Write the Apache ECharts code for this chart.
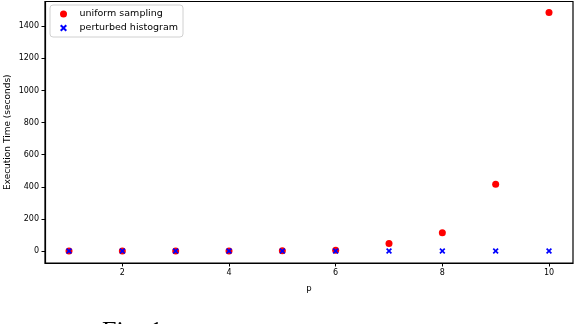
<!DOCTYPE html>
<html><head><meta charset="utf-8">
<script src="https://cdn.jsdelivr.net/npm/echarts@6/dist/echarts.min.js"></script>
<style>html,body{margin:0;padding:0;background:#fff}#c{width:574px;height:324px}</style>
</head><body><div id="c"></div>
<script>
const pValues = [1, 2, 3, 4, 5, 6, 7, 8, 9, 10];
const uniformSampling = [1, 1, 1, 1, 2, 5, 48, 115, 417, 1485];
const perturbedHistogram = [0.5, 0.5, 0.5, 0.5, 0.5, 0.5, 0.5, 0.5, 0.5, 0.5];
const xTicks = [2, 4, 6, 8, 10];
const yTicks = [0, 200, 400, 600, 800, 1000, 1200, 1400];
const xLabel = 'p';
const yLabel = 'Execution Time (seconds)';
const seriesNames = ['uniform sampling', 'perturbed histogram'];
const figCaption = 'Fig. 1';

const xSym = 'path://M0,2L2,0L5,3L8,0L10,2L7,5L10,8L8,10L5,7L2,10L0,8L3,5Z';
const font = 'DejaVu Sans';
const chart = echarts.init(document.getElementById('c'), null, {renderer: 'canvas'});
chart.setOption({
  animation: false,
  grid: {left: 45, right: 1, top: 1.5, bottom: 61, show: true, borderColor: '#000', borderWidth: 1.2, containLabel: false, outerBoundsMode: 'none'},
  legend: {
    left: 50, top: 5, orient: 'vertical', itemGap: 4, itemWidth: 14, itemHeight: 7,
    padding: [4, 5, 4, 10], borderColor: '#d0d0d0', borderWidth: 1, borderRadius: 3,
    textStyle: {fontFamily: font, fontSize: 9.5, color: '#000', padding: [0, 0, 0, 4]},
    data: seriesNames.map(n => ({name: n}))
  },
  xAxis: {
    type: 'value', min: 0.55, max: 10.45,
    name: xLabel, nameLocation: 'middle', nameGap: 21, nameMoveOverlap: false,
    nameTextStyle: {fontFamily: font, fontSize: 8.5, color: '#000'},
    axisLine: {show: true, onZero: false, lineStyle: {color: '#000', width: 1.2}},
    axisTick: {show: true, length: 3.5, customValues: xTicks, lineStyle: {color: '#000'}},
    axisLabel: {customValues: xTicks, fontFamily: font, fontSize: 8, color: '#000', margin: 6, formatter: v => String(v)},
    splitLine: {show: false}
  },
  yAxis: {
    type: 'value', min: -74, max: 1554,
    name: yLabel, nameLocation: 'middle', nameGap: 33, nameMoveOverlap: false,
    nameTextStyle: {fontFamily: font, fontSize: 9, color: '#000'},
    axisLine: {show: true, onZero: false, lineStyle: {color: '#000', width: 1.2}},
    axisTick: {show: true, length: 3.5, customValues: yTicks, lineStyle: {color: '#000'}},
    axisLabel: {customValues: yTicks, fontFamily: font, fontSize: 8, color: '#000', margin: 6, formatter: v => String(v)},
    splitLine: {show: false}
  },
  graphic: [{type: 'text', left: 102, top: 319, style: {text: figCaption, font: '26px "Liberation Serif"', fill: '#000'}}],
  series: [
    {name: seriesNames[0], type: 'scatter', symbol: 'circle', symbolSize: 7, itemStyle: {color: '#ff0000', opacity: 1},
     data: pValues.map((p, i) => [p, uniformSampling[i]]), z: 2},
    {name: seriesNames[1], type: 'scatter', symbol: xSym, symbolSize: 6, itemStyle: {color: '#0000ff', opacity: 1},
     data: pValues.map((p, i) => [p, perturbedHistogram[i]]), z: 3}
  ]
});
</script></body></html>
